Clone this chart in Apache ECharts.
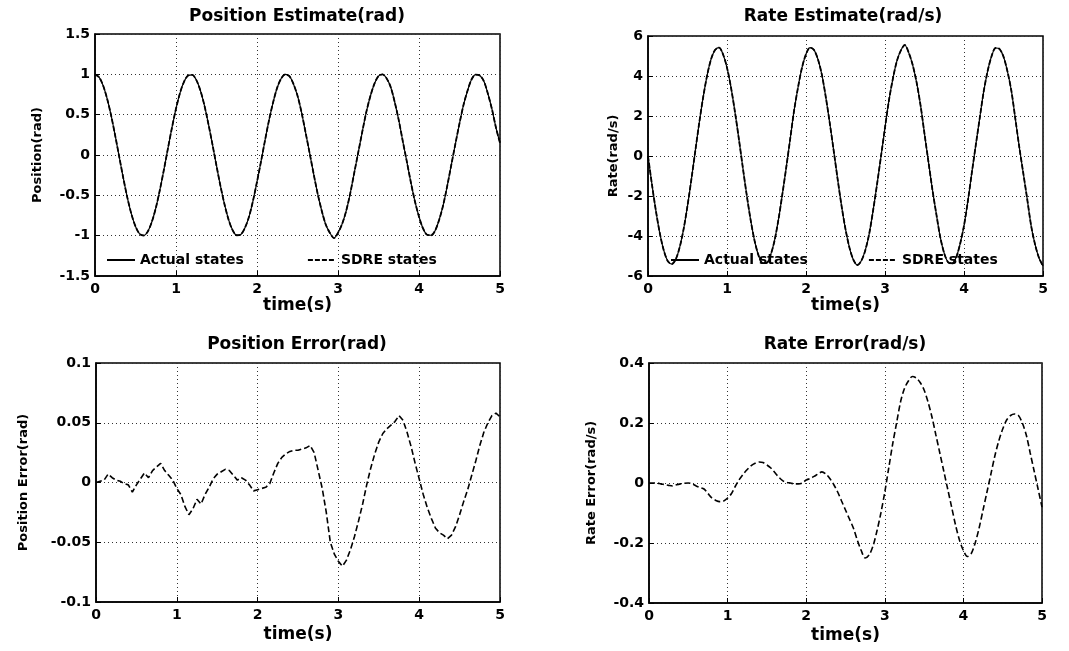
<!DOCTYPE html>
<html><head><meta charset="utf-8">
<script src="https://cdn.jsdelivr.net/npm/echarts@6/dist/echarts.min.js"></script>
<style>html,body{margin:0;padding:0;background:#fff}#c{width:1069px;height:651px}</style>
</head><body><div id="c"></div>
<script>
// ---- data ----
const time = [0,0.05,0.1,0.15,0.2,0.25,0.3,0.35,0.4,0.45,0.5,0.55,0.6,0.65,0.7,0.75,0.8,0.85,0.9,0.95,
  1,1.05,1.1,1.15,1.2,1.25,1.3,1.35,1.4,1.45,1.5,1.55,1.6,1.65,1.7,1.75,1.8,1.85,1.9,1.95,
  2,2.05,2.1,2.15,2.2,2.25,2.3,2.35,2.4,2.45,2.5,2.55,2.6,2.65,2.7,2.75,2.8,2.85,2.9,2.95,
  3,3.05,3.1,3.15,3.2,3.25,3.3,3.35,3.4,3.45,3.5,3.55,3.6,3.65,3.7,3.75,3.8,3.85,3.9,3.95,
  4,4.05,4.1,4.15,4.2,4.25,4.3,4.35,4.4,4.45,4.5,4.55,4.6,4.65,4.7,4.75,4.8,4.85,4.9,4.95,5];

const positionStates = [1.00,0.965,0.862,0.697,0.485,0.237,-0.027,-0.289,-0.531,-0.734,
  -0.886,-0.977,-0.998,-0.951,-0.834,-0.660,-0.437,-0.186,0.080,0.338,
  0.575,0.771,0.911,0.987,0.994,0.932,0.803,0.618,0.385,0.131,
  -0.133,-0.390,-0.616,-0.804,-0.934,-0.995,-0.986,-0.906,-0.770,-0.571,
  -0.332,-0.078,0.186,0.439,0.656,0.836,0.951,0.999,0.977,0.881,
  0.735,0.528,0.278,0.022,-0.238,-0.485,-0.694,-0.865,-0.966,-1.03,
  -0.965,-0.857,-0.697,-0.481,-0.224,0.032,0.290,0.535,0.731,0.884,
  0.979,0.999,0.950,0.843,0.657,0.432,0.170,-0.083,-0.341,-0.576,
  -0.765,-0.911,-0.989,-0.995,-0.935,-0.800,-0.615,-0.377,-0.116,0.141,
  0.392,0.622,0.799,0.939,0.997,0.986,0.917,0.762,0.571,0.340,0.15];

const rateStates = [0,-1.42,-2.74,-3.87,-4.72,-5.25,-5.40,-5.17,-4.58,-3.67,
  -2.49,-1.14,0.29,1.70,2.98,4.06,4.86,5.31,5.42,5.08,
  4.42,3.44,2.22,0.86,-0.57,-1.96,-3.22,-4.25,-4.98,-5.35,
  -5.35,-4.97,-4.26,-3.21,-1.93,-0.57,0.86,2.29,3.45,4.43,
  5.09,5.42,5.31,4.85,4.08,2.96,1.67,0.28,-1.14,-2.49,
  -3.66,-4.58,-5.19,-5.45,-5.24,-4.72,-3.89,-2.71,-1.39,0.00,
  1.42,2.78,3.87,4.74,5.27,5.55,5.17,4.56,3.68,2.53,
  1.11,-0.29,-1.68,-2.91,-4.07,-4.87,-5.32,-5.38,-5.08,-4.41,
  -3.48,-2.23,-0.81,0.57,1.92,3.24,4.26,5.00,5.40,5.35,
  4.97,4.23,3.25,1.86,0.44,-0.85,-2.15,-3.49,-4.43,-5.10,-5.50];

const positionError = [0,0.001,0.002,0.007,0.004,0.002,0.001,-0.001,-0.002,-0.008,
  -0.002,0.003,0.008,0.004,0.010,0.013,0.016,0.010,0.006,0.002,
  -0.005,-0.010,-0.020,-0.027,-0.022,-0.014,-0.018,-0.010,-0.004,0.003,
  0.007,0.009,0.011,0.010,0.006,0.002,0.004,0.002,-0.002,-0.007,
  -0.006,-0.005,-0.004,-0.001,0.008,0.016,0.021,0.024,0.026,0.027,
  0.027,0.028,0.029,0.031,0.025,0.010,-0.005,-0.025,-0.050,-0.060,
  -0.066,-0.070,-0.065,-0.056,-0.045,-0.032,-0.018,-0.002,0.012,0.024,
  0.034,0.041,0.045,0.048,0.051,0.056,0.052,0.042,0.030,0.016,
  0.003,-0.010,-0.021,-0.030,-0.038,-0.042,-0.044,-0.047,-0.044,-0.037,
  -0.027,-0.016,-0.006,0.006,0.018,0.031,0.042,0.050,0.056,0.058,0.055];

const rateError = [0,0,0,-0.003,-0.005,-0.008,-0.010,-0.006,-0.003,-0.001,
  0,-0.003,-0.010,-0.015,-0.020,-0.035,-0.050,-0.058,-0.062,-0.060,
  -0.050,-0.035,-0.010,0.012,0.030,0.045,0.058,0.066,0.070,0.068,
  0.060,0.050,0.035,0.020,0.008,0.002,0,-0.003,-0.003,0,
  0.010,0.015,0.022,0.030,0.037,0.030,0.015,-0.005,-0.030,-0.060,
  -0.090,-0.120,-0.150,-0.190,-0.225,-0.250,-0.240,-0.210,-0.160,-0.100,
  -0.030,0.050,0.130,0.200,0.270,0.315,0.340,0.355,0.350,0.335,
  0.310,0.270,0.220,0.160,0.100,0.040,-0.020,-0.080,-0.140,-0.190,
  -0.225,-0.245,-0.235,-0.200,-0.150,-0.090,-0.030,0.030,0.090,0.140,
  0.180,0.210,0.225,0.230,0.225,0.200,0.160,0.100,0.040,-0.020,-0.080];

const xTickRange = [0, 5, 1];
const yTickRanges = [[-1.5, 1.5, 0.5], [-6, 6, 2], [-0.1, 0.1, 0.05], [-0.4, 0.4, 0.2]];
const panelTitles = ['Position Estimate(rad)', 'Rate Estimate(rad/s)', 'Position Error(rad)', 'Rate Error(rad/s)'];
const yAxisNames = ['Position(rad)', 'Rate(rad/s)', 'Position Error(rad)', 'Rate Error(rad/s)'];
const xAxisName = 'time(s)';
const legendNames = ['Actual states', 'SDRE states'];

// ---- layout / style ----
const FONT = 'DejaVu Sans';
const grids = [
  {left: 95, top: 34, width: 405, height: 242},
  {left: 648, top: 36, width: 395, height: 240},
  {left: 96, top: 363, width: 404, height: 239},
  {left: 649, top: 363, width: 393, height: 240}
];
const titlePos = [[297, 17], [843, 17], [297, 345], [845, 345]];
const yNameGaps = [51, 28, 66, 51];
const xNameGaps = [19, 20, 24, 24];

const pairs = arr => time.map((t, i) => [t, arr[i]]);

const xAxes = grids.map((g, i) => ({
  type: 'value', gridIndex: i, min: xTickRange[0], max: xTickRange[1], interval: xTickRange[2],
  name: xAxisName, nameLocation: 'middle', nameGap: xNameGaps[i],
  nameTextStyle: {fontFamily: FONT, fontWeight: 'bold', fontSize: 17, color: '#000'},
  axisLine: {show: true, onZero: false, lineStyle: {color: '#000', width: 1.5}},
  axisTick: {show: true, inside: true, length: 5, lineStyle: {color: '#000'}},
  axisLabel: {fontFamily: FONT, fontWeight: 'bold', fontSize: 14, color: '#000', margin: 6},
  splitLine: {show: true, lineStyle: {color: '#333', type: [1, 3], width: 1}}
}));
const yAxes = grids.map((g, i) => ({
  type: 'value', gridIndex: i, min: yTickRanges[i][0], max: yTickRanges[i][1], interval: yTickRanges[i][2],
  name: yAxisNames[i], nameLocation: 'middle', nameGap: yNameGaps[i],
  nameTextStyle: {fontFamily: FONT, fontWeight: 'bold', fontSize: 13, color: '#000'},
  axisLine: {show: true, onZero: false, lineStyle: {color: '#000', width: 1.5}},
  axisTick: {show: true, inside: true, length: 5, lineStyle: {color: '#000'}},
  axisLabel: {fontFamily: FONT, fontWeight: 'bold', fontSize: 14, color: '#000', margin: 5},
  splitLine: {show: true, lineStyle: {color: '#333', type: [1, 3], width: 1}}
}));

const solid = {color: '#000', width: 1.2, type: 'solid'};
const dashed = {color: '#000', width: 1.8, type: [5, 2]};
const errDash = {color: '#000', width: 1.6, type: [6, 3]};

const series = [
  {name: legendNames[0], type: 'line', xAxisIndex: 0, yAxisIndex: 0, data: pairs(positionStates), lineStyle: solid, smooth: 0.3},
  {name: legendNames[1], type: 'line', xAxisIndex: 0, yAxisIndex: 0, data: pairs(positionStates), lineStyle: dashed, smooth: 0.3},
  {name: legendNames[0], type: 'line', xAxisIndex: 1, yAxisIndex: 1, data: pairs(rateStates), lineStyle: solid, smooth: 0.3},
  {name: legendNames[1], type: 'line', xAxisIndex: 1, yAxisIndex: 1, data: pairs(rateStates), lineStyle: dashed, smooth: 0.3},
  {name: 'Position error', type: 'line', xAxisIndex: 2, yAxisIndex: 2, data: pairs(positionError), lineStyle: errDash},
  {name: 'Rate error', type: 'line', xAxisIndex: 3, yAxisIndex: 3, data: pairs(rateError), lineStyle: errDash, smooth: 0.3}
].map(s => Object.assign({symbol: 'none', showSymbol: false, itemStyle: {color: '#000'}, clip: true}, s));

const legendText = {fontFamily: FONT, fontWeight: 'bold', fontSize: 14, color: '#000'};
const legendCommon = {
  data: legendNames, padding: 0, itemWidth: 28, itemHeight: 14, textStyle: legendText, selectedMode: false,
  itemStyle: {opacity: 0, color: 'transparent', borderColor: 'transparent', borderWidth: 0}
};
const option = {
  animation: false,
  backgroundColor: '#fff',
  grid: grids.map(g => Object.assign({show: true, borderColor: '#000', borderWidth: 1.5, backgroundColor: 'transparent'}, g)),
  xAxis: xAxes,
  yAxis: yAxes,
  legend: [
    Object.assign({left: 106, top: 253, itemGap: 63}, legendCommon),
    Object.assign({left: 670, top: 253, itemGap: 60}, legendCommon)
  ],
  graphic: panelTitles.map((t, i) => ({
    type: 'text', x: titlePos[i][0], y: titlePos[i][1], silent: true,
    style: {text: t, fill: '#000', font: 'bold 17px "' + FONT + '"', align: 'center', verticalAlign: 'middle'}
  })),
  series: series
};
const chart = echarts.init(document.getElementById('c'), null, {renderer: 'canvas'});
chart.setOption(option);
</script>
</body></html>
